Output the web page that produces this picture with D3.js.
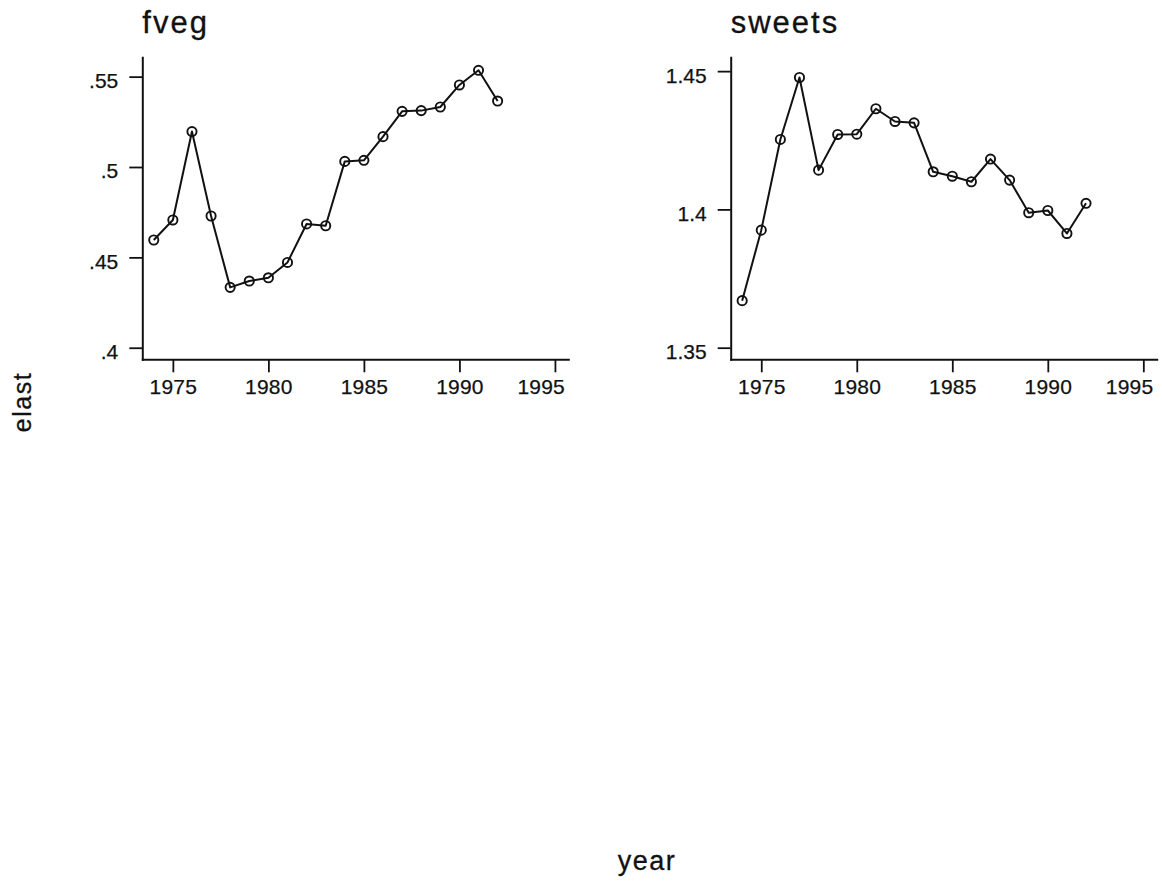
<!DOCTYPE html>
<html>
<head>
<meta charset="utf-8">
<script src="https://cdn.jsdelivr.net/npm/d3@7"></script>
<style>
  html, body { margin: 0; padding: 0; background: #fff; }
  svg text { font-family: "Liberation Sans", Arial, Helvetica, sans-serif; fill: #111; }
</style>
</head>
<body>
<svg id="chart" width="1162" height="881"></svg>
<script>
// Yearly elasticity estimates for two food groups
const years = [1974, 1975, 1976, 1977, 1978, 1979, 1980, 1981, 1982, 1983,
               1984, 1985, 1986, 1987, 1988, 1989, 1990, 1991, 1992];
const fveg = [0.4596, 0.4707, 0.5196, 0.4729, 0.4334, 0.4369, 0.4387, 0.4472, 0.4685, 0.4675,
              0.5031, 0.5037, 0.5168, 0.5308, 0.5312, 0.5332, 0.5454, 0.5535, 0.5365];
const sweets = [1.3670, 1.3925, 1.4253, 1.4477, 1.4142, 1.4271, 1.4272, 1.4364, 1.4318, 1.4313,
                1.4136, 1.4120, 1.4100, 1.4182, 1.4106, 1.3988, 1.3996, 1.3913, 1.4022];
const xTicks = [1975, 1980, 1985, 1990, 1995];
const fvegTicks = [0.4, 0.45, 0.5, 0.55];
const fvegTickLabels = [".4", ".45", ".5", ".55"];
const sweetsTicks = [1.35, 1.4, 1.45];
const sweetsTickLabels = ["1.35", "1.4", "1.45"];

const svg = d3.select("#chart");

const panelTop = 57.3, panelBottom = 359.3, panelWidth = 426;
const ink = "#111";

const panels = [
  { title: "fveg", values: fveg, ticks: fvegTicks, labels: fvegTickLabels,
    left: 142.3, yDomain: [0.3936, 0.5607] },
  { title: "sweets", values: sweets, ticks: sweetsTicks, labels: sweetsTickLabels,
    left: 730.7, yDomain: [1.3458, 1.4550] }
];

panels.forEach(p => {
  const x = d3.scaleLinear().domain([1973.4, 1995.7]).range([p.left, p.left + panelWidth]);
  const y = d3.scaleLinear().domain(p.yDomain).range([panelBottom, panelTop]);
  const g = svg.append("g");

  // panel title
  g.append("text")
    .attr("x", p.left)
    .attr("y", 33)
    .attr("font-size", 31)
    .attr("letter-spacing", 2)
    .attr("stroke", ink).attr("stroke-width", 0.3)
    .text(p.title);

  // y axis, ticks pointing outward
  const yAxis = d3.axisLeft(y)
    .tickValues(p.ticks)
    .tickFormat((d, i) => p.labels[i])
    .tickSizeInner(13).tickSizeOuter(0).tickPadding(11);
  const ya = g.append("g").attr("transform", `translate(${p.left},0)`).call(yAxis);
  ya.select(".domain").attr("stroke", ink).attr("stroke-width", 2);
  ya.selectAll(".tick line").attr("stroke", ink).attr("stroke-width", 1.8);
  ya.selectAll(".tick text")
    .attr("font-size", 21).attr("font-family", null)
    .attr("dy", "0.52em").attr("fill", ink)
    .attr("stroke", ink).attr("stroke-width", 0.25);

  // x axis
  const xAxis = d3.axisBottom(x)
    .tickValues(xTicks)
    .tickFormat(d3.format("d"))
    .tickSizeInner(13).tickSizeOuter(0).tickPadding(7);
  const xa = g.append("g").attr("transform", `translate(0,${panelBottom})`).call(xAxis);
  xa.select(".domain").attr("stroke", ink).attr("stroke-width", 2);
  xa.selectAll(".tick line").attr("stroke", ink).attr("stroke-width", 1.8);
  xa.selectAll(".tick text")
    .attr("font-size", 21).attr("font-family", null)
    .attr("letter-spacing", 0.2).attr("fill", ink)
    .attr("stroke", ink).attr("stroke-width", 0.25);
  // last label is pulled inward so it stays inside the plot edge
  xa.selectAll(".tick text")
    .filter(d => d === xTicks[xTicks.length - 1])
    .attr("text-anchor", "end")
    .attr("x", 9.5);

  // connected series
  const pts = years.map((yr, i) => [yr, p.values[i]]);
  g.append("path")
    .datum(pts)
    .attr("fill", "none")
    .attr("stroke", ink)
    .attr("stroke-width", 2)
    .attr("stroke-linejoin", "round")
    .attr("d", d3.line().x(d => x(d[0])).y(d => y(d[1])));

  g.selectAll("circle.pt")
    .data(pts)
    .enter().append("circle")
    .attr("class", "pt")
    .attr("cx", d => x(d[0]))
    .attr("cy", d => y(d[1]))
    .attr("r", 4.6)
    .attr("fill", "none")
    .attr("stroke", ink)
    .attr("stroke-width", 1.9);
});

svg.selectAll(".domain").attr("stroke-linecap", "square");

// shared axis titles
svg.append("text")
  .attr("transform", "translate(31,402) rotate(-90)")
  .attr("text-anchor", "middle")
  .attr("font-size", 25)
  .attr("letter-spacing", 1.5)
  .attr("stroke", ink).attr("stroke-width", 0.3)
  .text("elast");

svg.append("text")
  .attr("x", 647)
  .attr("y", 869.5)
  .attr("text-anchor", "middle")
  .attr("font-size", 27)
  .attr("letter-spacing", 1.5)
  .attr("stroke", ink).attr("stroke-width", 0.3)
  .text("year");
</script>
</body>
</html>
